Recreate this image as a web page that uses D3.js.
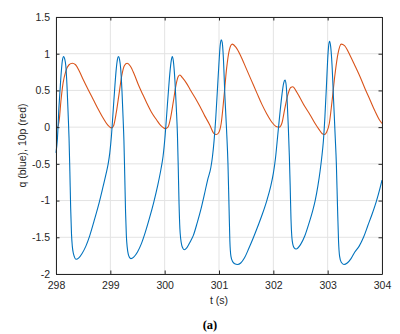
<!DOCTYPE html>
<html>
<head>
<meta charset="utf-8">
<script src="https://cdn.jsdelivr.net/npm/d3@7"></script>
<style>
  body { margin: 0; background: #fff; }
  svg { display: block; font-family: "Liberation Sans", Arial, sans-serif; }
  .tick-label { font-size: 10.5px; fill: #262626; }
</style>
</head>
<body>
<svg id="chart" width="400" height="334"></svg>
<script>
// q (blue)
var tBlue = [298.00, 298.025, 298.055, 298.086, 298.116, 298.14, 298.16, 298.18, 298.205, 298.225,
  298.24, 298.255, 298.27, 298.285, 298.30, 298.32, 298.34, 298.37, 298.42, 298.48, 298.55, 298.62,
  298.70, 298.78, 298.85, 298.92, 298.96, 298.99, 299.02, 299.05, 299.08, 299.11, 299.13, 299.15,
  299.17, 299.19, 299.215, 299.235, 299.25, 299.265, 299.28, 299.295, 299.31, 299.33, 299.35, 299.38,
  299.43, 299.50, 299.57, 299.64, 299.72, 299.80, 299.87, 299.93, 299.97, 300.01, 300.04, 300.07,
  300.10, 300.12, 300.14,
  300.16, 300.19, 300.215, 300.235, 300.25, 300.265, 300.28, 300.295, 300.315, 300.335, 300.36,
  300.41, 300.47, 300.53, 300.60, 300.67, 300.73, 300.79, 300.85, 300.88, 300.91, 300.94, 300.97,
  301.00, 301.02, 301.04,
  301.06, 301.08, 301.11, 301.14, 301.165, 301.185, 301.20, 301.22, 301.25, 301.29, 301.34,
  301.40, 301.47, 301.55, 301.63, 301.72, 301.80, 301.88, 301.95, 302.00, 302.04, 302.08, 302.12,
  302.16, 302.19, 302.215,
  302.235, 302.255, 302.275, 302.295, 302.31, 302.325, 302.34, 302.36, 302.38, 302.42,
  302.50, 302.58, 302.66, 302.72, 302.77, 302.82, 302.86, 302.89, 302.92, 302.95, 302.98,
  303.00, 303.02, 303.035,
  303.055, 303.08, 303.11, 303.14, 303.16, 303.18, 303.20, 303.22, 303.25, 303.30,
  303.36, 303.43, 303.50, 303.58, 303.66, 303.74, 303.82, 303.90, 303.96, 304.00];
var qBlue = [-0.35, -0.17, 0.28, 0.64, 0.90, 0.96, 0.93, 0.84, 0.52, 0.15,
  -0.15, -0.60, -1.10, -1.45, -1.62, -1.72, -1.77, -1.80, -1.78, -1.72, -1.62, -1.48,
  -1.28, -1.07, -0.86, -0.64, -0.50, -0.35, -0.12, 0.20, 0.52, 0.80, 0.92, 0.96,
  0.92, 0.80, 0.48, 0.12, -0.18, -0.65, -1.15, -1.48, -1.63, -1.73, -1.77, -1.79,
  -1.77, -1.70, -1.59, -1.44, -1.24, -1.02, -0.80, -0.58, -0.40, -0.10, 0.20, 0.50,
  0.77, 0.90, 0.96,
  0.90, 0.62, 0.25, -0.10, -0.55, -1.05, -1.38, -1.52, -1.61, -1.65, -1.67,
  -1.64, -1.56, -1.47, -1.30, -1.11, -0.92, -0.72, -0.55, -0.40, -0.18, 0.12, 0.50,
  0.88, 1.10, 1.19,
  1.15, 0.95, 0.40, -0.05, -0.50, -1.10, -1.55, -1.76, -1.83, -1.86, -1.87,
  -1.85, -1.78, -1.65, -1.51, -1.34, -1.18, -1.00, -0.81, -0.63, -0.42, -0.12, 0.18,
  0.45, 0.60, 0.64,
  0.58, 0.35, 0.02, -0.40, -0.80, -1.25, -1.49, -1.60, -1.64, -1.66,
  -1.60, -1.48, -1.30, -1.15, -1.00, -0.80, -0.60, -0.42, -0.20, 0.15, 0.60,
  0.92, 1.12, 1.17,
  1.10, 0.85, 0.35, -0.15, -0.50, -1.05, -1.55, -1.76, -1.84, -1.87,
  -1.85, -1.79, -1.70, -1.62, -1.50, -1.34, -1.18, -1.00, -0.84, -0.72];

// 10p (red)
var tRed = [298.00, 298.03, 298.06, 298.09, 298.13, 298.18, 298.24, 298.30, 298.36, 298.43,
  298.50, 298.60, 298.69, 298.78, 298.87, 298.95, 299.02, 299.06, 299.11, 299.16, 299.21,
  299.26, 299.31, 299.37, 299.44, 299.52, 299.60, 299.67, 299.76, 299.85, 299.93, 300.01,
  300.06, 300.11, 300.16, 300.21, 300.25, 300.28, 300.33, 300.40, 300.47, 300.56, 300.65,
  300.74, 300.83, 300.90, 300.95, 300.99, 301.04, 301.09, 301.14, 301.19, 301.245, 301.31,
  301.40, 301.50, 301.60, 301.70, 301.79, 301.88, 301.97, 302.05, 302.11, 302.16, 302.21,
  302.27, 302.32, 302.36, 302.42, 302.49, 302.58, 302.675, 302.76, 302.84, 302.90, 302.94,
  302.98, 303.03, 303.08, 303.135, 303.19, 303.25, 303.31, 303.41, 303.50, 303.60, 303.69,
  303.78, 303.87, 303.96, 304.00];
var pRed = [0.00, 0.00, 0.10, 0.35, 0.60, 0.76, 0.85, 0.87, 0.85, 0.76,
  0.65, 0.50, 0.37, 0.24, 0.12, 0.03, -0.01, 0.02, 0.20, 0.45, 0.70,
  0.84, 0.87, 0.83, 0.72, 0.57, 0.44, 0.33, 0.20, 0.10, 0.02, -0.02,
  0.00, 0.13, 0.35, 0.58, 0.69, 0.71, 0.67, 0.60, 0.51, 0.40, 0.28,
  0.15, 0.03, -0.08, -0.10, -0.08, 0.05, 0.40, 0.80, 1.05, 1.13, 1.09,
  0.97, 0.80, 0.63, 0.46, 0.31, 0.18, 0.07, 0.01, 0.00, 0.06, 0.25,
  0.45, 0.54, 0.55, 0.49, 0.40, 0.28, 0.17, 0.06, -0.03, -0.09, -0.10,
  -0.07, 0.05, 0.35, 0.72, 1.00, 1.13, 1.11, 0.98, 0.84, 0.68, 0.52,
  0.37, 0.22, 0.09, 0.05];

var xTicks = [298, 299, 300, 301, 302, 303, 304];
var yTicks = [1.5, 1, 0.5, 0, -0.5, -1, -1.5, -2];
var yTickLabels = ["1.5", "1", "0.5", "0", "-0.5", "-1", "-1.5", "-2"];

var margin = {left: 56, right: 18, top: 17, bottom: 60},
    width = 400 - margin.left - margin.right,
    height = 334 - margin.top - margin.bottom,
    axisColor = "#262626",
    gridColor = "#e3e3e3",
    tickLen = 3.5;

var svg = d3.select("#chart"),
    g = svg.append("g").attr("transform", "translate(" + margin.left + "," + margin.top + ")");

var x = d3.scaleLinear().domain([298, 304]).range([0, width]),
    y = d3.scaleLinear().domain([-2, 1.5]).range([height, 0]);

//
// grid
g.append("g").selectAll("line.gx").data(xTicks).enter().append("line")
  .attr("x1", x).attr("x2", x).attr("y1", 0).attr("y2", height)
  .attr("stroke", gridColor).attr("stroke-width", 1);
g.append("g").selectAll("line.gy").data(yTicks).enter().append("line")
  .attr("y1", y).attr("y2", y).attr("x1", 0).attr("x2", width)
  .attr("stroke", gridColor).attr("stroke-width", 1);

//
// series
function drawLine(tt, vv, color) {
  var pts = tt.map((t, i) => [t, vv[i]]);
  g.append("path")
    .datum(pts)
    .attr("fill", "none")
    .attr("stroke", color)
    .attr("stroke-width", 1.1)
    .attr("stroke-linejoin", "round")
    .attr("d", d3.line().x(d => x(d[0])).y(d => y(d[1])).curve(d3.curveMonotoneX));
}
drawLine(tRed, pRed, "#D95319");
drawLine(tBlue, qBlue, "#0072BD");

//
// axes, box style with inward ticks on all four sides
function styleAxis(sel) {
  sel.select(".domain").attr("stroke", axisColor);
  sel.selectAll(".tick line").attr("stroke", axisColor);
  sel.selectAll(".tick text").attr("class", "tick-label").attr("font-family", null).attr("font-size", null);
}

g.append("g").attr("transform", "translate(0," + height + ")")
  .call(d3.axisBottom(x).tickValues(xTicks).tickFormat(d3.format("d")).tickSizeInner(-tickLen).tickSizeOuter(0).tickPadding(8))
  .call(styleAxis);
g.append("g")
  .call(d3.axisTop(x).tickValues(xTicks).tickFormat("").tickSizeInner(-tickLen).tickSizeOuter(0))
  .call(styleAxis);
g.append("g")
  .call(d3.axisLeft(y).tickValues(yTicks).tickFormat((d, i) => yTickLabels[i]).tickSizeInner(-tickLen).tickSizeOuter(0).tickPadding(6))
  .call(styleAxis);
g.append("g").attr("transform", "translate(" + width + ",0)")
  .call(d3.axisRight(y).tickValues(yTicks).tickFormat("").tickSizeInner(-tickLen).tickSizeOuter(0))
  .call(styleAxis);

//
// labels
g.append("text")
  .attr("transform", "translate(-30," + (height / 2) + ") rotate(-90)")
  .attr("text-anchor", "middle")
  .attr("font-size", "10.5px").attr("fill", axisColor)
  .text("q (blue), 10p (red)");

g.append("text")
  .attr("x", width / 2).attr("y", height + 30)
  .attr("text-anchor", "middle")
  .attr("font-size", "10.5px").attr("fill", axisColor)
  .text("t (s)");

svg.append("text")
  .attr("x", 210).attr("y", 329)
  .attr("text-anchor", "middle")
  .attr("font-family", "'Liberation Serif', 'DejaVu Serif', serif")
  .attr("font-weight", "bold")
  .attr("font-size", "12.5px").attr("fill", "#000")
  .text("(a)");
</script>
</body>
</html>
